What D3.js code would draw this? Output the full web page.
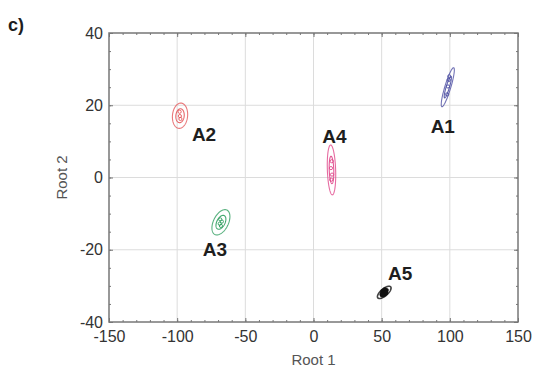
<!DOCTYPE html>
<html>
<head>
<meta charset="utf-8">
<script src="https://cdn.jsdelivr.net/npm/d3@7"></script>
<style>
  body { margin: 0; background: #fff; }
  svg { display: block; font-family: "Liberation Sans", Arial, sans-serif; }
</style>
</head>
<body>
<div id="chart"></div>
<script>
// discriminant scores, group centroids and spread (Root 1 / Root 2)
const groups = ['A1', 'A2', 'A3', 'A4', 'A5'];
const centerRoot1 = [98.5, -97.9, -67.9, 13.2, 51.9];
const centerRoot2 = [25.0, 17.1, -12.4, 2.1, -31.8];
const sdRoot1 = [4.8, 5.6, 6.6, 3.1, 5.0];
const sdRoot2 = [5.4, 3.5, 3.5, 6.9, 1.7];
const corr = [0.88, 0.1, 0.45, -0.2, 0.7];
const colors = ['#4d4fa3', '#e4575a', '#2f9e5f', '#e0468a', '#111111'];

// individual samples inside each ellipse
const pointsRoot1 = [
  [99.2, 98.6, 98.0, 99.6],
  [-98.2, -97.6, -98.0],
  [-68.4, -67.2, -67.9, -68.8],
  [13.4, 12.8, 13.6, 13.0],
  [51.0, 52.4, 51.8, 52.8, 50.6]
];
const pointsRoot2 = [
  [27.0, 25.2, 23.0, 28.0],
  [18.2, 16.2, 17.0],
  [-11.6, -12.2, -13.4, -12.8],
  [4.5, 2.6, 0.8, -0.6],
  [-31.6, -31.2, -32.2, -31.9, -32.4]
];

const xTicks = [-150, -100, -50, 0, 50, 100, 150];
const yTicks = [-40, -20, 0, 20, 40];

const width = 535, height = 367;
const margin = { left: 109, right: 17, top: 33, bottom: 45 };

const svg = d3.select('#chart').append('svg')
  .attr('width', width)
  .attr('height', height);

const x = d3.scaleLinear().domain([-150, 150]).range([margin.left, width - margin.right]);
const y = d3.scaleLinear().domain([-40, 40]).range([height - margin.bottom, margin.top]);

// grid
svg.append('g')
  .selectAll('line')
  .data(xTicks.slice(1, -1))
  .enter().append('line')
  .attr('x1', d => x(d)).attr('x2', d => x(d))
  .attr('y1', y(-40)).attr('y2', y(40))
  .attr('stroke', '#dcdcdc').attr('stroke-width', 1);

svg.append('g')
  .selectAll('line')
  .data(yTicks.slice(1, -1))
  .enter().append('line')
  .attr('y1', d => y(d)).attr('y2', d => y(d))
  .attr('x1', x(-150)).attr('x2', x(150))
  .attr('stroke', '#dcdcdc').attr('stroke-width', 1);

// axes, ticks pointing inward on all four sides
const axisColor = '#777';
const fmt = d => String(d); // plain hyphen minus, as in the original
function styleAxis(g) {
  g.select('.domain').remove();
  g.selectAll('.tick line').attr('stroke', axisColor);
  g.selectAll('.tick text')
    .attr('fill', '#333')
    .attr('font-size', 16)
    .attr('font-family', '"Liberation Sans", Arial, sans-serif');
}

const xMinor = d3.range(-150, 151, 10);
const yMinor = d3.range(-40, 41, 5);

svg.append('g')
  .attr('transform', `translate(0,${y(-40)})`)
  .call(d3.axisBottom(x).tickValues(xMinor).tickSize(-2).tickFormat(''))
  .call(styleAxis);
svg.append('g')
  .attr('transform', `translate(0,${y(-40)})`)
  .call(d3.axisBottom(x).tickValues(xTicks).tickSize(-4).tickPadding(9).tickFormat(fmt))
  .call(styleAxis);
svg.append('g')
  .attr('transform', `translate(0,${y(40)})`)
  .call(d3.axisTop(x).tickValues(xMinor).tickSize(-2).tickFormat(''))
  .call(styleAxis);
svg.append('g')
  .attr('transform', `translate(0,${y(40)})`)
  .call(d3.axisTop(x).tickValues(xTicks).tickSize(-4).tickFormat(''))
  .call(styleAxis);

svg.append('g')
  .attr('transform', `translate(${x(-150)},0)`)
  .call(d3.axisLeft(y).tickValues(yMinor).tickSize(-2).tickFormat(''))
  .call(styleAxis);
svg.append('g')
  .attr('transform', `translate(${x(-150)},0)`)
  .call(d3.axisLeft(y).tickValues(yTicks).tickSize(-4).tickPadding(6).tickFormat(fmt))
  .call(styleAxis);
svg.append('g')
  .attr('transform', `translate(${x(150)},0)`)
  .call(d3.axisRight(y).tickValues(yMinor).tickSize(-2).tickFormat(''))
  .call(styleAxis);
svg.append('g')
  .attr('transform', `translate(${x(150)},0)`)
  .call(d3.axisRight(y).tickValues(yTicks).tickSize(-4).tickFormat(''))
  .call(styleAxis);

// frame
svg.append('rect')
  .attr('x', x(-150)).attr('y', y(40))
  .attr('width', x(150) - x(-150)).attr('height', y(-40) - y(40))
  .attr('fill', 'none').attr('stroke', axisColor).attr('stroke-width', 1.5);

// confidence ellipses
function ellipsePath(i, k) {
  const pts = d3.range(0, 2 * Math.PI + 0.01, Math.PI / 60).map(t => {
    const dx = k * sdRoot1[i] * Math.cos(t);
    const dy = k * sdRoot2[i] * (corr[i] * Math.cos(t) + Math.sqrt(1 - corr[i] * corr[i]) * Math.sin(t));
    return [x(centerRoot1[i] + dx), y(centerRoot2[i] + dy)];
  });
  return d3.line()(pts);
}

const plot = svg.append('g');
groups.forEach((name, i) => {
  const g = plot.append('g');
  [1, 0.55].forEach((k, j) => {
    g.append('path')
      .attr('d', ellipsePath(i, k))
      .attr('fill', name === 'A5' && j === 1 ? colors[i] : 'none')
      .attr('stroke', colors[i])
      .attr('stroke-opacity', j === 0 ? 0.8 : 0.9)
      .attr('stroke-width', name === 'A5' ? 1.6 : 1.1);
  });
  g.selectAll('circle')
    .data(pointsRoot1[i].map((v, j) => [v, pointsRoot2[i][j]]))
    .enter().append('circle')
    .attr('cx', d => x(d[0]))
    .attr('cy', d => y(d[1]))
    .attr('r', name === 'A5' ? 2.5 : 1.6)
    .attr('fill', name === 'A5' ? colors[i] : 'none')
    .attr('stroke', colors[i])
    .attr('stroke-width', 0.9);
});

// group labels, offset from the centroid in pixels
const labelOffset = { A1: [-5, 39], A2: [24, 19], A3: [-6, 27], A4: [3, -33], A5: [16, -19] };
groups.forEach((name, i) => {
  svg.append('text')
    .attr('x', x(centerRoot1[i]) + labelOffset[name][0])
    .attr('y', y(centerRoot2[i]) + labelOffset[name][1])
    .attr('text-anchor', 'middle')
    .attr('dominant-baseline', 'central')
    .attr('font-size', 19)
    .attr('font-weight', 'bold')
    .attr('fill', '#1e1e1e')
    .text(name);
});

// axis titles
svg.append('text')
  .attr('x', x(0)).attr('y', 365)
  .attr('text-anchor', 'middle')
  .attr('font-size', 15)
  .attr('fill', '#555')
  .text('Root 1');

svg.append('text')
  .attr('transform', `translate(67,${y(0)}) rotate(-90)`)
  .attr('text-anchor', 'middle')
  .attr('font-size', 15)
  .attr('fill', '#555')
  .text('Root 2');

svg.append('text')
  .attr('x', 8).attr('y', 31)
  .attr('font-size', 18)
  .attr('font-weight', 'bold')
  .attr('fill', '#1e1e1e')
  .text('c)');
</script>
</body>
</html>
